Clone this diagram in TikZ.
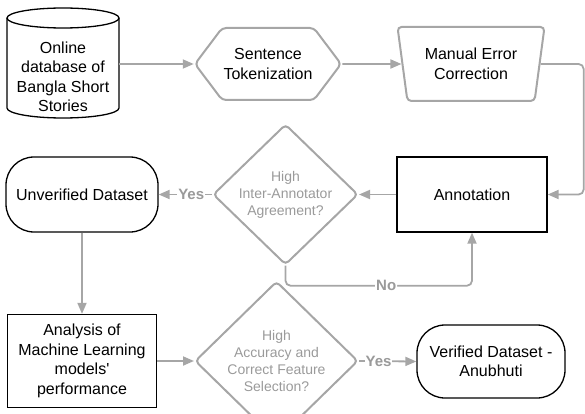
\documentclass[tikz,border=0pt]{standalone}
\usepackage{fontspec}
\setmainfont{Liberation Sans}
\usepackage{tikz}
\usetikzlibrary{shapes.geometric,shapes.symbols,arrows.meta}
\definecolor{linegray}{HTML}{A6A6A6}
\definecolor{textgray}{HTML}{9A9A9A}

\begin{document}
\begin{tikzpicture}[x=1pt, y=-1pt,
  boxtext/.style={align=center, font=\fontsize{16}{19.5}\selectfont, inner sep=0pt},
  blackbox/.style={boxtext, draw=black, line width=1.3pt},
  graybox/.style={boxtext, draw=linegray, line width=2pt, rounded corners=4pt},
  decision/.style={diamond, draw=linegray, line width=2pt, rounded corners=4pt, align=center, text=textgray, font=\fontsize{14}{17}\selectfont, inner sep=0pt},
  flow/.style={draw=linegray, line width=1.8pt, -{Triangle[length=11pt,width=9pt]}},
  answer/.style={fill=white, text=textgray, font=\fontsize{15}{17}\selectfont\bfseries, inner sep=1pt}]

\useasboundingbox (0,0) rectangle (585,414);

% Online database (cylinder)
\draw[black, line width=1.3pt] (7,18) -- (7,108) arc[start angle=180, end angle=360, x radius=56pt, y radius=10pt] -- (119,18);
\draw[black, line width=1.3pt] (63,18) ellipse [x radius=56pt, y radius=10pt];
\path 
(63,77) node [boxtext, minimum width=112pt] (db) {Online\\database of\\Bangla Short\\Stories};

% Sentence tokenization
\path 
(268,64) node [graybox, signal, signal to=west and east, signal pointer angle=106, minimum width=146pt, minimum height=72pt] (tok) {Sentence\\Tokenization};

% Manual error correction
\path 
(471,64) node [graybox, trapezium, trapezium left angle=103, trapezium right angle=103, trapezium stretches=true, minimum width=147pt, minimum height=74pt] (mec) {Manual Error\\Correction};

% Annotation
\path 
(472,194.5) node [blackbox, minimum width=150pt, minimum height=75pt] (ann) {Annotation};

% Agreement check
\path 
(285.5,194.5) node [decision, minimum width=145pt, minimum height=107pt] (iaa) {High\\Inter-Annotator\\Agreement?};

% Unverified dataset
\path 
(82,194.5) node [blackbox, rounded corners=28pt, minimum width=152pt, minimum height=75pt] (unv) {Unverified Dataset};

% Analysis of models
\path 
(82,361) node [blackbox, minimum width=149pt, minimum height=93pt] (ana) {Analysis of\\Machine Learning\\models\textquotesingle\\performance};

% Accuracy check
\path 
(276.5,361) node [decision, minimum width=163pt, minimum height=108pt] (acc) {High\\Accuracy and\\Correct Feature\\Selection?};

% Verified dataset
\path 
(491,361.5) node [blackbox, rounded corners=28pt, minimum width=148pt, minimum height=73pt] (ver) {Verified Dataset -\\Anubhuti};

% Flow
\draw[flow] (db.east |- tok.west) -- (tok.west);
\draw[flow] (tok.east) -- (mec.west);
\draw[flow, rounded corners=5pt] (mec.east) -| ([xshift=36pt]ann.east) -- (ann.east);
\draw[flow] (ann.west) -- (iaa.east);
\draw[flow] (iaa.west) -- node [answer, pos=0.39] (yesa) {Yes} (unv.east);
\draw[flow, rounded corners=5pt] (iaa.south) -- ++(0,20) -| node [answer, pos=0.27] (no) {No} (ann.south);
\draw[flow] (unv.south) -- (ana.north);
\draw[flow] (ana.east) -- (acc.west);
\draw[flow] (acc.east) -- node [answer, pos=0.34] (yesb) {Yes} (ver.west);

\end{tikzpicture}
\end{document}
